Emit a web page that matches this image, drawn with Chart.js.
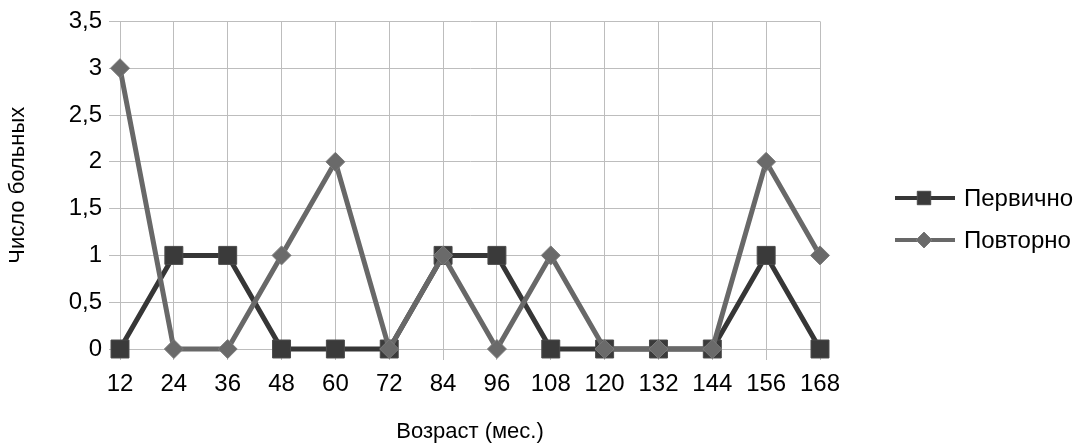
<!DOCTYPE html>
<html>
<head>
<meta charset="utf-8">
<script src="https://cdn.jsdelivr.net/npm/chart.js@4/dist/chart.umd.min.js"></script>
<style>
  html, body { margin: 0; padding: 0; background: #ffffff; }
  #wrap { width: 1087px; height: 448px; position: relative; }
</style>
</head>
<body>
<div id="wrap"><canvas id="chart"></canvas></div>
<script>
// Age in months
const ageMonths = ['12', '24', '36', '48', '60', '72', '84', '96', '108', '120', '132', '144', '156', '168'];
// Number of patients by age
const primaryCases = [0, 1, 1, 0, 0, 0, 1, 1, 0, 0, 0, 0, 1, 0];
const repeatCases  = [3, 0, 0, 1, 2, 0, 1, 0, 1, 0, 0, 0, 2, 1];
const seriesNames = ['Первично', 'Повторно'];

const FONT = "'Liberation Sans', Arial, sans-serif";
const GRID = '#bdbdbd';

// Legend on the right: line sample with marker, then the series name
const sideLegend = {
  id: 'sideLegend',
  afterDraw(chart) {
    const ctx = chart.ctx;
    const rows = [
      { ds: chart.data.datasets[0], y: 198 },
      { ds: chart.data.datasets[1], y: 240 }
    ];
    ctx.save();
    rows.forEach(r => {
      const ds = r.ds;
      ctx.strokeStyle = ds.borderColor;
      ctx.lineWidth = 4;
      ctx.beginPath();
      ctx.moveTo(895, r.y);
      ctx.lineTo(955, r.y);
      ctx.stroke();
      ctx.fillStyle = ds.pointBackgroundColor;
      ctx.strokeStyle = ds.pointBorderColor;
      ctx.lineWidth = 1;
      const rad = ds.pointStyle === 'rect' ? 9.5 : 8;
      ctx.beginPath();
      if (ds.pointStyle === 'rect') {
        const s = rad * Math.SQRT1_2;
        ctx.rect(924 - s, r.y - s, 2 * s, 2 * s);
      } else {
        ctx.moveTo(924, r.y - rad);
        ctx.lineTo(924 + rad, r.y);
        ctx.lineTo(924, r.y + rad);
        ctx.lineTo(924 - rad, r.y);
        ctx.closePath();
      }
      ctx.fill();
      ctx.stroke();
      ctx.fillStyle = '#000000';
      ctx.font = '24px ' + FONT;
      ctx.textAlign = 'left';
      ctx.textBaseline = 'middle';
      ctx.fillText(ds.label, 964, r.y + 1);
    });
    ctx.restore();
  }
};

new Chart(document.getElementById('chart'), {
  type: 'line',
  data: {
    labels: ageMonths,
    datasets: [
      {
        label: seriesNames[0],
        data: primaryCases,
        borderColor: '#363636',
        backgroundColor: '#363636',
        pointBackgroundColor: '#3a3a3a',
        pointBorderColor: '#4a4a4a',
        pointBorderWidth: 1,
        pointStyle: 'rect',
        pointRadius: 12.7,
        pointHoverRadius: 12.7,
        borderWidth: 5,
        tension: 0,
        clip: false,
        order: 1
      },
      {
        label: seriesNames[1],
        data: repeatCases,
        borderColor: '#686868',
        backgroundColor: '#686868',
        pointBackgroundColor: '#6a6a6a',
        pointBorderColor: '#7a7a7a',
        pointBorderWidth: 1,
        pointStyle: 'rectRot',
        pointRadius: 9.5,
        pointHoverRadius: 9.5,
        borderWidth: 5,
        tension: 0,
        clip: false,
        order: 0
      }
    ]
  },
  options: {
    responsive: true,
    maintainAspectRatio: false,
    animation: false,
    layout: { padding: { top: 18, right: 267, left: 0, bottom: 0 } },
    plugins: {
      legend: { display: false },
      tooltip: { enabled: false }
    },
    scales: {
      x: {
        type: 'category',
        offset: false,
        grid: { color: GRID, lineWidth: 1, tickLength: 11, drawTicks: true },
        border: { color: GRID, width: 1 },
        ticks: {
          color: '#000000',
          font: { family: FONT, size: 24 },
          padding: 10,
          maxRotation: 0,
          autoSkip: false
        },
        title: {
          display: true,
          text: 'Возраст (мес.)',
          color: '#000000',
          font: { family: FONT, size: 22 },
          padding: { top: 0, bottom: 3 }
        },
        afterFit(scale) { scale.height = 448 - 349; }
      },
      y: {
        min: 0,
        max: 3.5,
        grid: { color: GRID, lineWidth: 1, tickLength: 11 },
        border: { color: GRID, width: 1 },
        ticks: {
          stepSize: 0.5,
          color: '#000000',
          font: { family: FONT, size: 24 },
          padding: 7,
          callback: v => String(v).replace('.', ',')
        },
        title: {
          display: true,
          text: 'Число больных',
          color: '#000000',
          font: { family: FONT, size: 22 },
          padding: { top: 5, bottom: 0 }
        },
        afterFit(scale) { scale.width = 120; }
      }
    }
  },
  plugins: [sideLegend]
});
</script>
</body>
</html>
